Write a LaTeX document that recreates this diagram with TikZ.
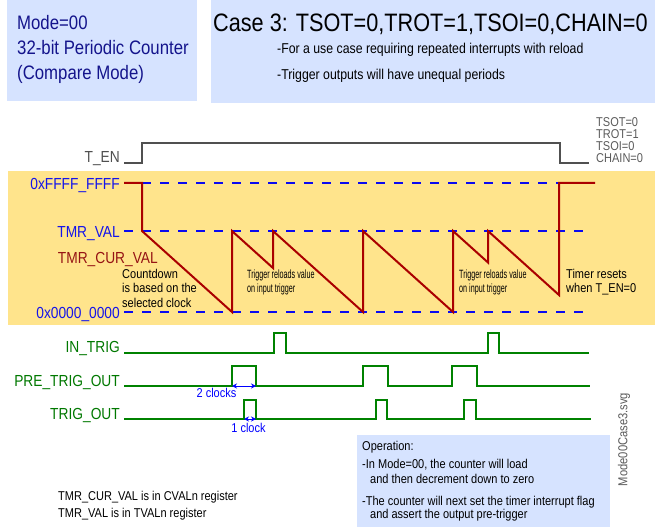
\documentclass[tikz,border=0pt]{standalone}
\usepackage{fontspec}
\setmainfont{Liberation Sans}[FakeStretch=0.86]
\newfontfamily\narrowfont{Liberation Sans}[FakeStretch=0.6]
\usetikzlibrary{arrows.meta}
\definecolor{bandyellow}{RGB}{255,228,140}
\definecolor{boxblue}{RGB}{214,227,255}
\definecolor{navytext}{RGB}{20,20,140}
\definecolor{lblblue}{RGB}{20,20,235}
\definecolor{waveblue}{RGB}{10,10,240}
\definecolor{redwave}{RGB}{170,0,0}
\definecolor{redtext}{RGB}{150,20,20}
\definecolor{wavegreen}{RGB}{0,130,0}
\definecolor{labelgreen}{RGB}{0,120,0}
\definecolor{tengray}{RGB}{80,80,80}
\definecolor{notegray}{RGB}{90,90,90}
\begin{document}
\begin{tikzpicture}[x=1pt,y=-1pt,
  txt/.style={inner sep=0pt, anchor=base west},
  rlbl/.style={inner sep=0pt, anchor=base east, font=\fontsize{16}{18}\selectfont},
  small/.style={font=\fontsize{12.8}{14}\selectfont},
  tiny/.style={font=\narrowfont\fontsize{12}{14}\selectfont},
  levelline/.style={waveblue, line width=2pt, dash pattern=on 9pt off 9pt},
  redline/.style={redwave, line width=2pt, line join=miter},
  greenline/.style={wavegreen, line width=2pt},
  enline/.style={tengray, line width=1.6pt},
  clockarrow/.style={{Stealth[length=5pt,width=5pt]}-{Stealth[length=5pt,width=5pt]}, blue, line width=1pt}
]
\useasboundingbox (0,0) rectangle (655,529);
% background boxes
\fill[boxblue] (7,0) rectangle (197,101);
\fill[boxblue] (211,0) rectangle (655,103);
\fill[bandyellow] (8,171) rectangle (655,325);
\fill[boxblue] (357,435) rectangle (610,527);

% top-left box text
\node[txt, navytext, font=\fontsize{19.5}{22}\selectfont] (mode) at (17,30) {Mode=00};
\node[txt, navytext, font=\fontsize{19.5}{22}\selectfont] (counter) at (17,55) {32-bit Periodic Counter};
\node[txt, navytext, font=\fontsize{19.5}{22}\selectfont] (cmpmode) at (17,80) {(Compare Mode)};

% top-right box text
\node[txt, font=\fontsize{25.2}{28}\selectfont] (case) at (213,32) {Case 3: TSOT=0,TROT=1,TSOI=0,CHAIN=0};
\node[txt, font=\fontsize{14.3}{16}\selectfont] (usecase) at (277,54) {-For a use case requiring repeated interrupts with reload};
\node[txt, font=\fontsize{14.3}{16}\selectfont] (periods) at (277,80) {-Trigger outputs will have unequal periods};

% T_EN
\node[rlbl, tengray] (ten) at (120,163) {T\_EN};
\coordinate (tenA) at (124,163);
\coordinate (tenB) at (589,163);
\draw[enline] (tenA) -- (142,163) -- (142,143) -- (560,143) -- (560,163) -- (tenB);
\node[txt, notegray, font=\fontsize{12.8}{12}\selectfont] (tsot) at (596,127) {TSOT=0};
\node[txt, notegray, font=\fontsize{12.8}{12}\selectfont] (trot) at (596,139) {TROT=1};
\node[txt, notegray, font=\fontsize{12.8}{12}\selectfont] (tsoi) at (596,151) {TSOI=0};
\node[txt, notegray, font=\fontsize{12.8}{12}\selectfont] (chain) at (596,163) {CHAIN=0};

% level labels
\node[rlbl, lblblue] (ffff) at (120,189.5) {0xFFFF\_FFFF};
\node[rlbl, lblblue] (tmrval) at (120,237) {TMR\_VAL};
\node[rlbl, redtext] (curval) at (158,263) {TMR\_CUR\_VAL};
\node[rlbl, lblblue] (zero) at (120,318) {0x0000\_0000};

% dashed levels
\coordinate (ffA) at (124,183); \coordinate (ffB) at (588,183);
\coordinate (tvA) at (124,231); \coordinate (tvB) at (588,231);
\coordinate (zA) at (124,312); \coordinate (zB) at (588,312);
\draw[levelline] (ffA) -- (ffB);
\draw[levelline] (tvA) -- (tvB);
\draw[levelline] (zA) -- (zB);

% counter waveform
\draw[redline] (ffA) -- (142,183) -- (142,231) -- (232,312) -- (232,231) -- (273,268) -- (273,231)
  -- (363,312) -- (363,231) -- (453,312) -- (453,231) -- (488,262.5) -- (488,231)
  -- (559,295) -- (559,183) -- (595,183);

% annotations in band
\node[txt, small] (cd1) at (122,278) {Countdown};
\node[txt, small] (cd2) at (122,292.5) {is based on the};
\node[txt, small] (cd3) at (122,307) {selected clock};
\node[txt, tiny] (tr1) at (247,278) {Trigger reloads value};
\node[txt, tiny] (tr2) at (247,292) {on input trigger};
\node[txt, tiny] (tr3) at (459,278) {Trigger reloads value};
\node[txt, tiny] (tr4) at (459,292) {on input trigger};
\node[txt, small] (rs1) at (566,278) {Timer resets};
\node[txt, small] (rs2) at (566,292.5) {when T\_EN=0};

% digital signals
\node[rlbl, labelgreen] (intrig) at (120,352) {IN\_TRIG};
\node[rlbl, labelgreen] (pretrig) at (120,386) {PRE\_TRIG\_OUT};
\node[rlbl, labelgreen] (trigout) at (120,419) {TRIG\_OUT};
\coordinate (inA) at (124,353); \coordinate (inB) at (589,353);
\coordinate (preA) at (124,386); \coordinate (preB) at (590,386);
\coordinate (toA) at (124,419); \coordinate (toB) at (591,419);
\draw[greenline] (inA) -- (274,353) -- (274,333) -- (286,333) -- (286,353)
  -- (488,353) -- (488,333) -- (499,333) -- (499,353) -- (inB);
\draw[greenline] (preA) -- (232,386) -- (232,366) -- (256,366) -- (256,386)
  -- (363,386) -- (363,366) -- (388,366) -- (388,386)
  -- (452,386) -- (452,366) -- (477,366) -- (477,386) -- (preB);
\draw[greenline] (toA) -- (244,419) -- (244,400) -- (256,400) -- (256,419)
  -- (376,419) -- (376,400) -- (387,400) -- (387,419)
  -- (464,419) -- (464,400) -- (476,400) -- (476,419) -- (toB);

% clock width arrows
\coordinate (c2A) at (232,386); \coordinate (c2B) at (256,386);
\coordinate (c1A) at (244,419); \coordinate (c1B) at (256,419);
\draw[clockarrow] (c2A) -- (c2B);
\draw[clockarrow] (c1A) -- (c1B);
\node[inner sep=0pt, anchor=base, blue, small] (twoclk) at (216.5,397) {2 clocks};
\node[inner sep=0pt, anchor=base, blue, small] (oneclk) at (248.5,432) {1 clock};

% operation box text
\node[txt, small] (op0) at (362,450) {Operation:};
\node[txt, small] (op1) at (362,468) {-In Mode=00, the counter will load};
\node[txt, small] (op2) at (370,483) {and then decrement down to zero};
\node[txt, small] (op3) at (362,505) {-The counter will next set the timer interrupt flag};
\node[txt, small] (op4) at (370,518) {and assert the output pre-trigger};

% register notes
\node[txt, small] (reg1) at (58,500) {TMR\_CUR\_VAL is in CVALn register};
\node[txt, small] (reg2) at (58,517) {TMR\_VAL is in TVALn register};

% file name
\node[inner sep=0pt, rotate=90, notegray, font=\fontsize{13}{15}\selectfont] (fname) at (624,439.5) {Mode00Case3.svg};
\end{tikzpicture}
\end{document}
